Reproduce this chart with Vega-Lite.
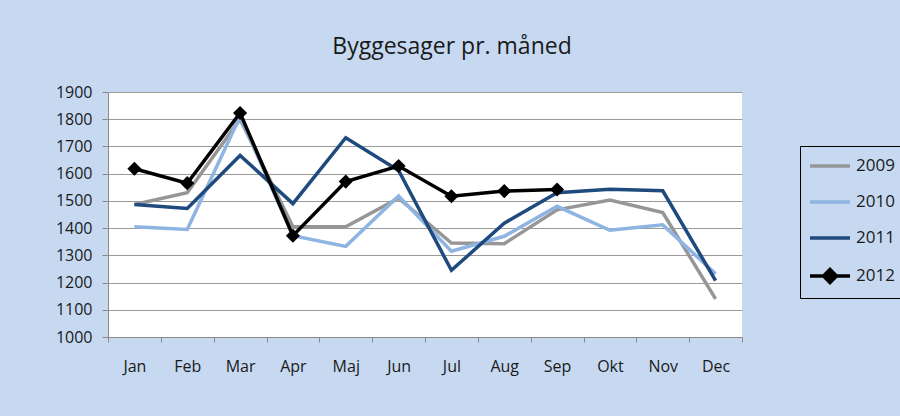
{
  "$schema": "https://vega.github.io/schema/vega-lite/v6.json",
  "width": 634,
  "height": 245,
  "autosize": {"type": "none"},
  "padding": {"left": 108, "top": 92, "right": 158, "bottom": 79},
  "background": "#c6d9f1",
  "title": {
    "text": "Byggesager pr. måned",
    "frame": "group",
    "anchor": "middle",
    "dx": 27,
    "dy": 29,
    "baseline": "alphabetic",
    "offset": 36,
    "font": "Open Sans",
    "fontSize": 23,
    "fontWeight": "normal",
    "color": "#1a1a1a"
  },
  "config": {
    "view": {"fill": "white", "stroke": null},
    "axis": {
      "labelFont": "Open Sans",
      "labelFontSize": 16,
      "labelColor": "#1a1a1a",
      "domainColor": "#8a8a8a",
      "tickColor": "#8a8a8a",
      "gridColor": "#9a9a9a",
      "titleFontSize": 0
    }
  },
  "data": {
    "values": [
      {"month": "Jan", "year": "2009", "value": 1487},
      {"month": "Feb", "year": "2009", "value": 1530},
      {"month": "Mar", "year": "2009", "value": 1800},
      {"month": "Apr", "year": "2009", "value": 1405},
      {"month": "Maj", "year": "2009", "value": 1405},
      {"month": "Jun", "year": "2009", "value": 1510},
      {"month": "Jul", "year": "2009", "value": 1345},
      {"month": "Aug", "year": "2009", "value": 1343},
      {"month": "Sep", "year": "2009", "value": 1467},
      {"month": "Okt", "year": "2009", "value": 1503},
      {"month": "Nov", "year": "2009", "value": 1457},
      {"month": "Dec", "year": "2009", "value": 1140},
      {"month": "Jan", "year": "2010", "value": 1405},
      {"month": "Feb", "year": "2010", "value": 1395},
      {"month": "Mar", "year": "2010", "value": 1810},
      {"month": "Apr", "year": "2010", "value": 1372},
      {"month": "Maj", "year": "2010", "value": 1333},
      {"month": "Jun", "year": "2010", "value": 1518},
      {"month": "Jul", "year": "2010", "value": 1315},
      {"month": "Aug", "year": "2010", "value": 1370},
      {"month": "Sep", "year": "2010", "value": 1480},
      {"month": "Okt", "year": "2010", "value": 1392},
      {"month": "Nov", "year": "2010", "value": 1412},
      {"month": "Dec", "year": "2010", "value": 1232},
      {"month": "Jan", "year": "2011", "value": 1487},
      {"month": "Feb", "year": "2011", "value": 1472},
      {"month": "Mar", "year": "2011", "value": 1667},
      {"month": "Apr", "year": "2011", "value": 1490},
      {"month": "Maj", "year": "2011", "value": 1732},
      {"month": "Jun", "year": "2011", "value": 1612},
      {"month": "Jul", "year": "2011", "value": 1245},
      {"month": "Aug", "year": "2011", "value": 1418},
      {"month": "Sep", "year": "2011", "value": 1530},
      {"month": "Okt", "year": "2011", "value": 1543},
      {"month": "Nov", "year": "2011", "value": 1537},
      {"month": "Dec", "year": "2011", "value": 1207},
      {"month": "Jan", "year": "2012", "value": 1618},
      {"month": "Feb", "year": "2012", "value": 1565},
      {"month": "Mar", "year": "2012", "value": 1823},
      {"month": "Apr", "year": "2012", "value": 1372},
      {"month": "Maj", "year": "2012", "value": 1571},
      {"month": "Jun", "year": "2012", "value": 1628},
      {"month": "Jul", "year": "2012", "value": 1517},
      {"month": "Aug", "year": "2012", "value": 1536},
      {"month": "Sep", "year": "2012", "value": 1542}
    ]
  },
  "encoding": {
    "x": {
      "field": "month",
      "type": "ordinal",
      "sort": null,
      "scale": {"type": "band", "paddingInner": 0, "paddingOuter": 0},
      "axis": {
        "title": null,
        "labelAngle": 0,
        "tickBand": "extent",
        "tickSize": 5,
        "labelPadding": 16,
        "grid": false
      }
    },
    "y": {
      "field": "value",
      "type": "quantitative",
      "scale": {"domain": [1000, 1900], "nice": false, "zero": false},
      "axis": {
        "title": null,
        "format": "d",
        "values": [1000, 1100, 1200, 1300, 1400, 1500, 1600, 1700, 1800, 1900],
        "tickSize": 6,
        "labelPadding": 10,
        "grid": true
      }
    }
  },
  "layer": [
    {
      "mark": {"type": "line", "strokeWidth": 3.5},
      "encoding": {
        "color": {
          "field": "year",
          "type": "nominal",
          "scale": {
            "domain": ["2009", "2010", "2011", "2012"],
            "range": ["#969696", "#8db4e2", "#1f4a7e", "#000000"]
          },
          "legend": {
            "title": null,
            "orient": "none",
            "legendX": 692,
            "legendY": 54,
            "padding": 8,
            "strokeColor": "#000000",
            "symbolSize": 400,
            "symbolStrokeWidth": 3.5,
            "rowPadding": 16,
            "labelOffset": 24,
            "labelFont": "Open Sans",
            "labelFontSize": 17,
            "labelColor": "#1a1a1a",
            "encode": {
              "symbols": {
                "update": {
                  "shape": {"signal": "datum.value == '2012' ? 'M-1,0H3M1,-0.65L1.65,0L1,0.65L0.35,0Z' : 'M-1,0H3'"},
                  "fill": {"signal": "datum.value == '2012' ? '#000000' : 'transparent'"}
                }
              }
            }
          }
        },
        "order": {"field": "year"}
      }
    },
    {
      "transform": [{"filter": "datum.year == '2012'"}],
      "mark": {"type": "point", "shape": "diamond", "filled": true, "size": 200, "color": "#000000", "opacity": 1}
    }
  ]
}
